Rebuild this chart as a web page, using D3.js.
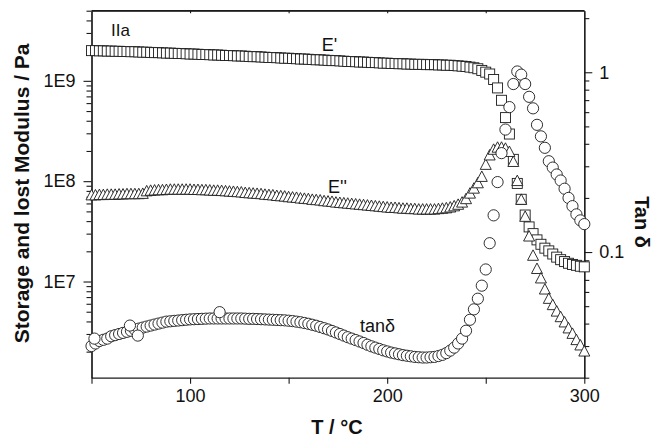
<!DOCTYPE html>
<html><head><meta charset="utf-8">
<script src="https://cdn.jsdelivr.net/npm/d3@7"></script>
<style>body{margin:0;background:#fff}svg{display:block}text{font-family:"Liberation Sans",Arial,sans-serif;fill:#111}</style>
</head><body>
<script>
// Temperature (°C)
const temps = [50,52,54,56,58,60,62,64,66,68,70,72,74,76,78,80,82,84,86,88,90,92,94,96,98,100,102,104,106,108,110,112,114,116,118,120,122,124,126,128,130,132,134,136,138,140,142,144,146,148,150,152,154,156,158,160,162,164,166,168,170,172,174,176,178,180,182,184,186,188,190,192,194,196,198,200,202,204,206,208,210,212,214,216,218,220,222,224,226,228,230,232,234,236,238,240,242,244,246,248,250,252,254,256,258,260,262,264,266,268,270,272,274,276,278,280,282,284,286,288,290,292,294,296,298,300];
// E' storage modulus (×1e9 Pa)
const storageGPa = [2.00,2.00,1.99,1.99,1.98,1.98,1.97,1.97,1.96,1.96,
1.95,1.95,1.94,1.93,1.93,1.92,1.91,1.91,1.90,1.89,
1.89,1.88,1.87,1.87,1.86,1.85,1.85,1.84,1.83,1.83,
1.82,1.81,1.81,1.80,1.79,1.79,1.78,1.77,1.77,1.76,
1.75,1.74,1.74,1.73,1.72,1.71,1.71,1.70,1.69,1.68,
1.68,1.67,1.66,1.65,1.65,1.64,1.63,1.62,1.62,1.61,
1.60,1.59,1.59,1.58,1.57,1.56,1.56,1.55,1.54,1.54,
1.53,1.52,1.52,1.51,1.50,1.50,1.49,1.49,1.48,1.48,
1.47,1.47,1.46,1.46,1.46,1.45,1.45,1.45,1.44,1.44,
1.43,1.43,1.42,1.41,1.40,1.39,1.37,1.35,1.32,1.27,
1.22,1.17,1.03,0.85,0.64,0.43,0.295,0.165,0.095,0.066,
0.046,0.035,0.030,0.026,0.0235,0.0215,0.0202,0.0188,0.0175,0.0165,
0.0158,0.0152,0.0148,0.0145,0.0142,0.0140];
// E'' loss modulus (×1e7 Pa)
const loss1e7 = [7.2,7.2,7.25,7.25,7.3,7.3,7.3,7.35,7.35,7.4,
7.4,7.4,7.4,7.45,7.9,8.0,8.05,8.1,8.1,8.15,
8.2,8.2,8.2,8.2,8.2,8.2,8.15,8.15,8.1,8.1,
8.05,8.0,8.0,7.95,7.9,7.85,7.8,7.75,7.7,7.6,
7.55,7.5,7.45,7.4,7.3,7.25,7.2,7.1,7.05,7.0,
6.9,6.85,6.8,6.7,6.65,6.6,6.5,6.45,6.4,6.3,
6.25,6.2,6.1,6.05,6.0,5.95,5.9,5.85,5.8,5.75,
5.7,5.65,5.6,5.55,5.5,5.45,5.4,5.4,5.35,5.3,
5.3,5.25,5.25,5.2,5.2,5.2,5.2,5.2,5.25,5.3,
5.35,5.45,5.6,5.8,6.1,6.6,7.5,8.4,9.5,11.0,
14.5,18.0,20.5,21.5,21.5,21.0,19.5,15.5,10.0,6.5,
4.4,2.8,1.8,1.33,1.07,0.83,0.67,0.58,0.50,0.44,
0.39,0.34,0.30,0.26,0.23,0.20];
// tan delta
const tanDelta = [0.030,0.031,0.032,0.0325,0.033,0.034,0.0345,0.035,0.0355,0.036,
0.0365,0.037,0.0375,0.038,0.0385,0.039,0.0395,0.040,0.0405,0.041,
0.0412,0.0414,0.0416,0.0418,0.042,0.0422,0.0423,0.0424,0.0425,0.0426,
0.0427,0.0427,0.0427,0.0427,0.0427,0.0427,0.0427,0.0427,0.0427,0.0426,
0.0425,0.0425,0.0424,0.0423,0.0422,0.0421,0.042,0.0419,0.0418,0.0417,
0.0415,0.0413,0.041,0.0407,0.0403,0.0399,0.0394,0.0389,0.0383,0.0377,
0.0371,0.0364,0.0357,0.035,0.0343,0.0336,0.033,0.0324,0.0318,0.0312,
0.0305,0.0299,0.0294,0.0289,0.0284,0.028,0.0276,0.0273,0.027,0.0267,
0.0265,0.0263,0.0261,0.026,0.0259,0.0259,0.026,0.0261,0.0264,0.0268,
0.0274,0.0283,0.0294,0.031,0.033,0.0365,0.042,0.048,0.055,0.065,
0.080,0.112,0.16,0.245,0.355,0.48,0.64,0.86,1.01,0.97,
0.86,0.73,0.63,0.51,0.44,0.38,0.32,0.295,0.27,0.25,
0.225,0.20,0.18,0.162,0.15,0.143];
// a few scattered tan delta readings
const scatterTemps = [51.5,69.5,73.5,115];
const scatterTanDelta = [0.033,0.039,0.0343,0.0463];

const xTicks = [50,100,150,200,250,300];
const xTickLabels = ["","100","","200","","300"];
const leftMajor = [1e7,1e8,1e9];
const leftMajorLabels = ["1E7","1E8","1E9"];
const rightMajor = [0.1,1];
const rightMajorLabels = ["0.1","1"];

const W=656,H=439;
const m={l:91.5,r:584.3,t:10.7,b:377.7};
const svg=d3.select("body").append("svg").attr("width",W).attr("height",H);
svg.append("rect").attr("width",W).attr("height",H).attr("fill","#fff");
const x=d3.scaleLinear().domain([50,300]).range([m.l,m.r]);
const yL=d3.scaleLog().domain([1.1e6,5e9]).range([m.b,m.t]);
const yR=d3.scaleLog().domain([0.02,2.2]).range([m.b,m.t]);
const ink="#1a1a1a";

function minors(lo,hi){const out=[];for(let e=Math.floor(Math.log10(lo));e<=Math.ceil(Math.log10(hi));e++){for(let k=2;k<=9;k++){const v=k*Math.pow(10,e);if(v>=lo*0.999&&v<=hi*1.001)out.push(v);}}return out;}

svg.append("line").attr("x1",m.l).attr("x2",m.r).attr("y1",m.t).attr("y2",m.t).attr("stroke",ink).attr("stroke-width",1.2);
svg.append("g").attr("transform",`translate(0,${m.b})`)
 .call(d3.axisBottom(x).tickValues(xTicks).tickSize(6).tickSizeOuter(0).tickPadding(6).tickFormat((d,i)=>xTickLabels[i]));
svg.append("g").attr("transform",`translate(0,${m.t})`)
 .call(d3.axisTop(x).tickValues([100,150,200,250]).tickSize(-2.5).tickSizeOuter(0).tickFormat(""));
svg.append("g").attr("transform",`translate(${m.l},0)`)
 .call(d3.axisLeft(yL).tickValues(leftMajor).tickSize(8).tickSizeOuter(0).tickPadding(8).tickFormat((d,i)=>leftMajorLabels[i]));
svg.append("g").attr("transform",`translate(${m.l},0)`)
 .call(d3.axisLeft(yL).tickValues(minors(1.1e6,5e9)).tickSize(5).tickSizeOuter(0).tickFormat(""));
svg.append("g").attr("transform",`translate(${m.r},0)`)
 .call(d3.axisRight(yR).tickValues(rightMajor).tickSize(8).tickSizeOuter(0).tickPadding(7).tickFormat((d,i)=>rightMajorLabels[i]));
svg.append("g").attr("transform",`translate(${m.r},0)`)
 .call(d3.axisRight(yR).tickValues(minors(0.02,2.2)).tickSize(5).tickSizeOuter(0).tickFormat(""));
svg.selectAll(".domain").attr("stroke",ink).attr("stroke-width",1.2);
svg.selectAll(".tick line").attr("stroke",ink).attr("stroke-width",1.1);
svg.selectAll(".tick text").attr("font-size",18).attr("font-family","Liberation Sans, Arial, sans-serif").attr("fill","#111");

const plot=svg.append("g");
const sq=10, tri=11, cr=5.6;
plot.selectAll("rect.sq").data(temps).enter().append("rect").attr("class","sq")
 .attr("x",(d)=>x(d)-sq/2).attr("y",(d,i)=>yL(storageGPa[i]*1e9)-sq/2)
 .attr("width",sq).attr("height",sq).attr("fill","#fff").attr("stroke",ink).attr("stroke-width",0.9);
plot.selectAll("path.tri").data(temps).enter().append("path").attr("class","tri")
 .attr("d",`M0,${-tri*0.55}L${tri/2},${tri*0.4}L${-tri/2},${tri*0.4}Z`)
 .attr("transform",(d,i)=>`translate(${x(d)},${yL(loss1e7[i]*1e7)})`)
 .attr("fill","#fff").attr("stroke",ink).attr("stroke-width",0.9);
plot.selectAll("circle.td").data(temps).enter().append("circle").attr("class","td")
 .attr("cx",(d)=>x(d)).attr("cy",(d,i)=>yR(tanDelta[i])).attr("r",cr)
 .attr("fill","#fff").attr("stroke",ink).attr("stroke-width",0.9);
plot.selectAll("circle.tds").data(scatterTemps).enter().append("circle").attr("class","tds")
 .attr("cx",(d)=>x(d)).attr("cy",(d,i)=>yR(scatterTanDelta[i])).attr("r",cr)
 .attr("fill","#fff").attr("stroke",ink).attr("stroke-width",0.9);

svg.append("text").attr("transform","translate(28.5,193.4) rotate(-90)").attr("text-anchor","middle")
 .attr("font-size",21).attr("font-weight","bold").text("Storage and lost Modulus / Pa");
svg.append("text").attr("x",337).attr("y",434).attr("text-anchor","middle")
 .attr("font-size",20).attr("font-weight","bold").text("T / °C");
svg.append("text").attr("transform","translate(635,222) rotate(90)").attr("text-anchor","middle")
 .attr("font-size",20).attr("font-weight","bold").text("Tan δ");
svg.append("text").attr("x",111).attr("y",36).attr("font-size",17).text("IIa");
svg.append("text").attr("x",321.7).attr("y",51).attr("font-size",18).text("E'");
svg.append("text").attr("x",328).attr("y",193).attr("font-size",18).text("E''");
svg.append("text").attr("x",360).attr("y",332).attr("font-size",18).text("tanδ");
</script>
</body></html>
